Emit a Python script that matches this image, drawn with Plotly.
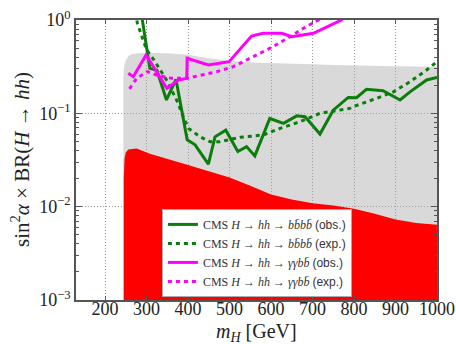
import plotly.graph_objects as go

# ---------------- data ----------------
# CMS H -> hh -> bbbb observed
bbbb_obs_x = [285, 308, 325, 348, 371, 398, 417, 449, 465, 491, 520, 541, 561, 597,
              630, 662, 682, 718, 750, 786, 806, 830, 870, 911, 935, 975, 1000]
bbbb_obs_y = [1.38, 0.303, 0.289, 0.139, 0.231, 0.052, 0.046, 0.0286, 0.056, 0.066,
              0.039, 0.044, 0.035, 0.088, 0.078, 0.094, 0.092, 0.060, 0.108, 0.148,
              0.147, 0.181, 0.175, 0.139, 0.17, 0.228, 0.243]
# CMS H -> hh -> bbbb expected
bbbb_exp_x = [273, 278, 300, 320, 348, 376, 385, 401, 429, 453, 477, 525, 581, 622,
              670, 718, 790, 798, 855, 895, 935, 975, 1000]
bbbb_exp_y = [1.2, 0.92, 0.48, 0.36, 0.228, 0.129, 0.1, 0.069, 0.056, 0.0497, 0.0497,
              0.0553, 0.0586, 0.069, 0.0814, 0.1, 0.113, 0.118, 0.145, 0.17, 0.218,
              0.291, 0.358]
# CMS H -> hh -> gamma gamma bb observed
ggbb_obs_x = [256, 268, 299, 349, 377, 397, 398, 449, 499, 553, 581, 626, 650, 702, 766, 800]
ggbb_obs_y = [0.268, 0.247, 0.422, 0.185, 0.228, 0.237, 0.388, 0.33, 0.358, 0.674,
              0.72, 0.72, 0.663, 0.72, 0.98, 1.25]
# CMS H -> hh -> gamma gamma bb expected
ggbb_exp_x = [259, 276, 302, 324, 361, 397, 469, 509, 557, 605, 646, 678, 714, 740]
ggbb_exp_y = [0.183, 0.237, 0.28, 0.257, 0.237, 0.237, 0.279, 0.316, 0.405, 0.518,
              0.663, 0.815, 1.0, 1.25]

# scan envelopes (upper edge of the point clouds)
gray_x = [244, 244, 246, 250, 256, 264, 280, 300, 350, 400, 450, 500, 550, 600, 650,
          700, 750, 800, 850, 900, 950, 1000]
gray_top = [0.0001, 0.24, 0.32, 0.37, 0.41, 0.43, 0.44, 0.445, 0.44, 0.425, 0.39, 0.365,
            0.35, 0.343, 0.34, 0.335, 0.33, 0.325, 0.32, 0.32, 0.318, 0.316]
red_x = [245, 245, 247, 250, 256, 276, 308, 348, 400, 450, 500, 550, 600, 650, 700,
         750, 800, 850, 900, 950, 1000]
red_top = [0.0001, 0.02, 0.033, 0.038, 0.041, 0.042, 0.037, 0.033, 0.028, 0.024, 0.0205,
           0.0168, 0.0135, 0.0119, 0.0109, 0.0103, 0.0095, 0.0084, 0.0073, 0.0067, 0.0064]
floor_y = 0.0001

x_ticks = [200, 300, 400, 500, 600, 700, 800, 900, 1000]
y_ticks = [0.001, 0.01, 0.1, 1]
y_ticktext = ["10<sup>−3</sup>", "10<sup>−2</sup>", "10<sup>−1</sup>", "10<sup>0</sup>"]
y_minor = [k * 10.0 ** e for e in (-3, -2, -1) for k in range(2, 10)]

x_title = "<i>m</i><sub><i>H</i></sub> [GeV]"
y_title = "sin<sup>2</sup><i>α</i> × BR(<i>H</i> → <i>hh</i>)"

serif = "Liberation Serif"
sans = "Liberation Sans"

def lab(final, kind):
    return ("CMS <i>H</i> → <i>hh</i> → <i>" + final + "</i> "
            f"<span style='font-family:{sans}'>({kind}.)</span>")

fig = go.Figure()

# gray cloud
fig.add_trace(go.Scatter(
    x=gray_x + [gray_x[-1]], y=gray_top + [floor_y],
    fill="toself", mode="lines", line=dict(width=0),
    fillcolor="rgba(170,170,170,0.45)", showlegend=False, hoverinfo="skip"))
# red cloud
fig.add_trace(go.Scatter(
    x=red_x + [red_x[-1]], y=red_top + [floor_y],
    fill="toself", mode="lines", line=dict(width=0, color="red"),
    fillcolor="#ff0000", showlegend=False, hoverinfo="skip"))

green = "#0a7d0a"
magenta = "#ff00ff"
fig.add_trace(go.Scatter(x=bbbb_obs_x, y=bbbb_obs_y, mode="lines",
                         line=dict(color=green, width=3),
                         name=lab("bb̄bb̄", "obs")))
fig.add_trace(go.Scatter(x=bbbb_exp_x, y=bbbb_exp_y, mode="lines",
                         line=dict(color=green, width=3, dash="4px,4px"),
                         name=lab("bb̄bb̄", "exp")))
fig.add_trace(go.Scatter(x=ggbb_obs_x, y=ggbb_obs_y, mode="lines",
                         line=dict(color=magenta, width=3),
                         name=lab("γγbb̄", "obs")))
fig.add_trace(go.Scatter(x=ggbb_exp_x, y=ggbb_exp_y, mode="lines",
                         line=dict(color=magenta, width=3, dash="4px,4px"),
                         name=lab("γγbb̄", "exp")))

axis_common = dict(showline=True, linecolor="#555", linewidth=1.5, mirror="ticks",
                   ticks="inside", tickcolor="#555", showgrid=True, gridcolor="#999",
                   griddash="1px,2px", gridwidth=1, zeroline=False,
                   tickfont=dict(family=serif, size=18, color="#222"))

fig.update_xaxes(range=[130, 1000], tickvals=x_ticks, ticklen=4,
                 ticklabelstandoff=-8, **axis_common)
fig.update_yaxes(type="log", range=[-3, 0], tickvals=y_ticks, ticktext=y_ticktext,
                 ticklen=6,
                 minor=dict(tickvals=y_minor, ticks="inside", ticklen=3, tickcolor="#555",
                            showgrid=False),
                 **axis_common)

fig.add_annotation(text=x_title, xref="paper", yref="paper", x=0.5, y=-0.066,
                   xanchor="center", yanchor="top", showarrow=False,
                   font=dict(family=serif, size=20, color="#222"))
fig.add_annotation(text=y_title, xref="paper", yref="paper", x=-0.155, y=0.5,
                   xanchor="center", yanchor="middle", showarrow=False, textangle=-90,
                   font=dict(family=serif, size=21, color="#222"))

fig.update_layout(
    width=456, height=344,
    margin=dict(l=76, r=19, t=20, b=44, autoexpand=False),
    plot_bgcolor="white", paper_bgcolor="white",
    legend=dict(x=0.238, y=0.011, xanchor="left", yanchor="bottom",
                bgcolor="white", bordercolor="#aaa", borderwidth=1,
                font=dict(family=serif, size=12, color="#333"),
                itemwidth=30, tracegroupgap=0),
)

fig.write_html("out.html")
